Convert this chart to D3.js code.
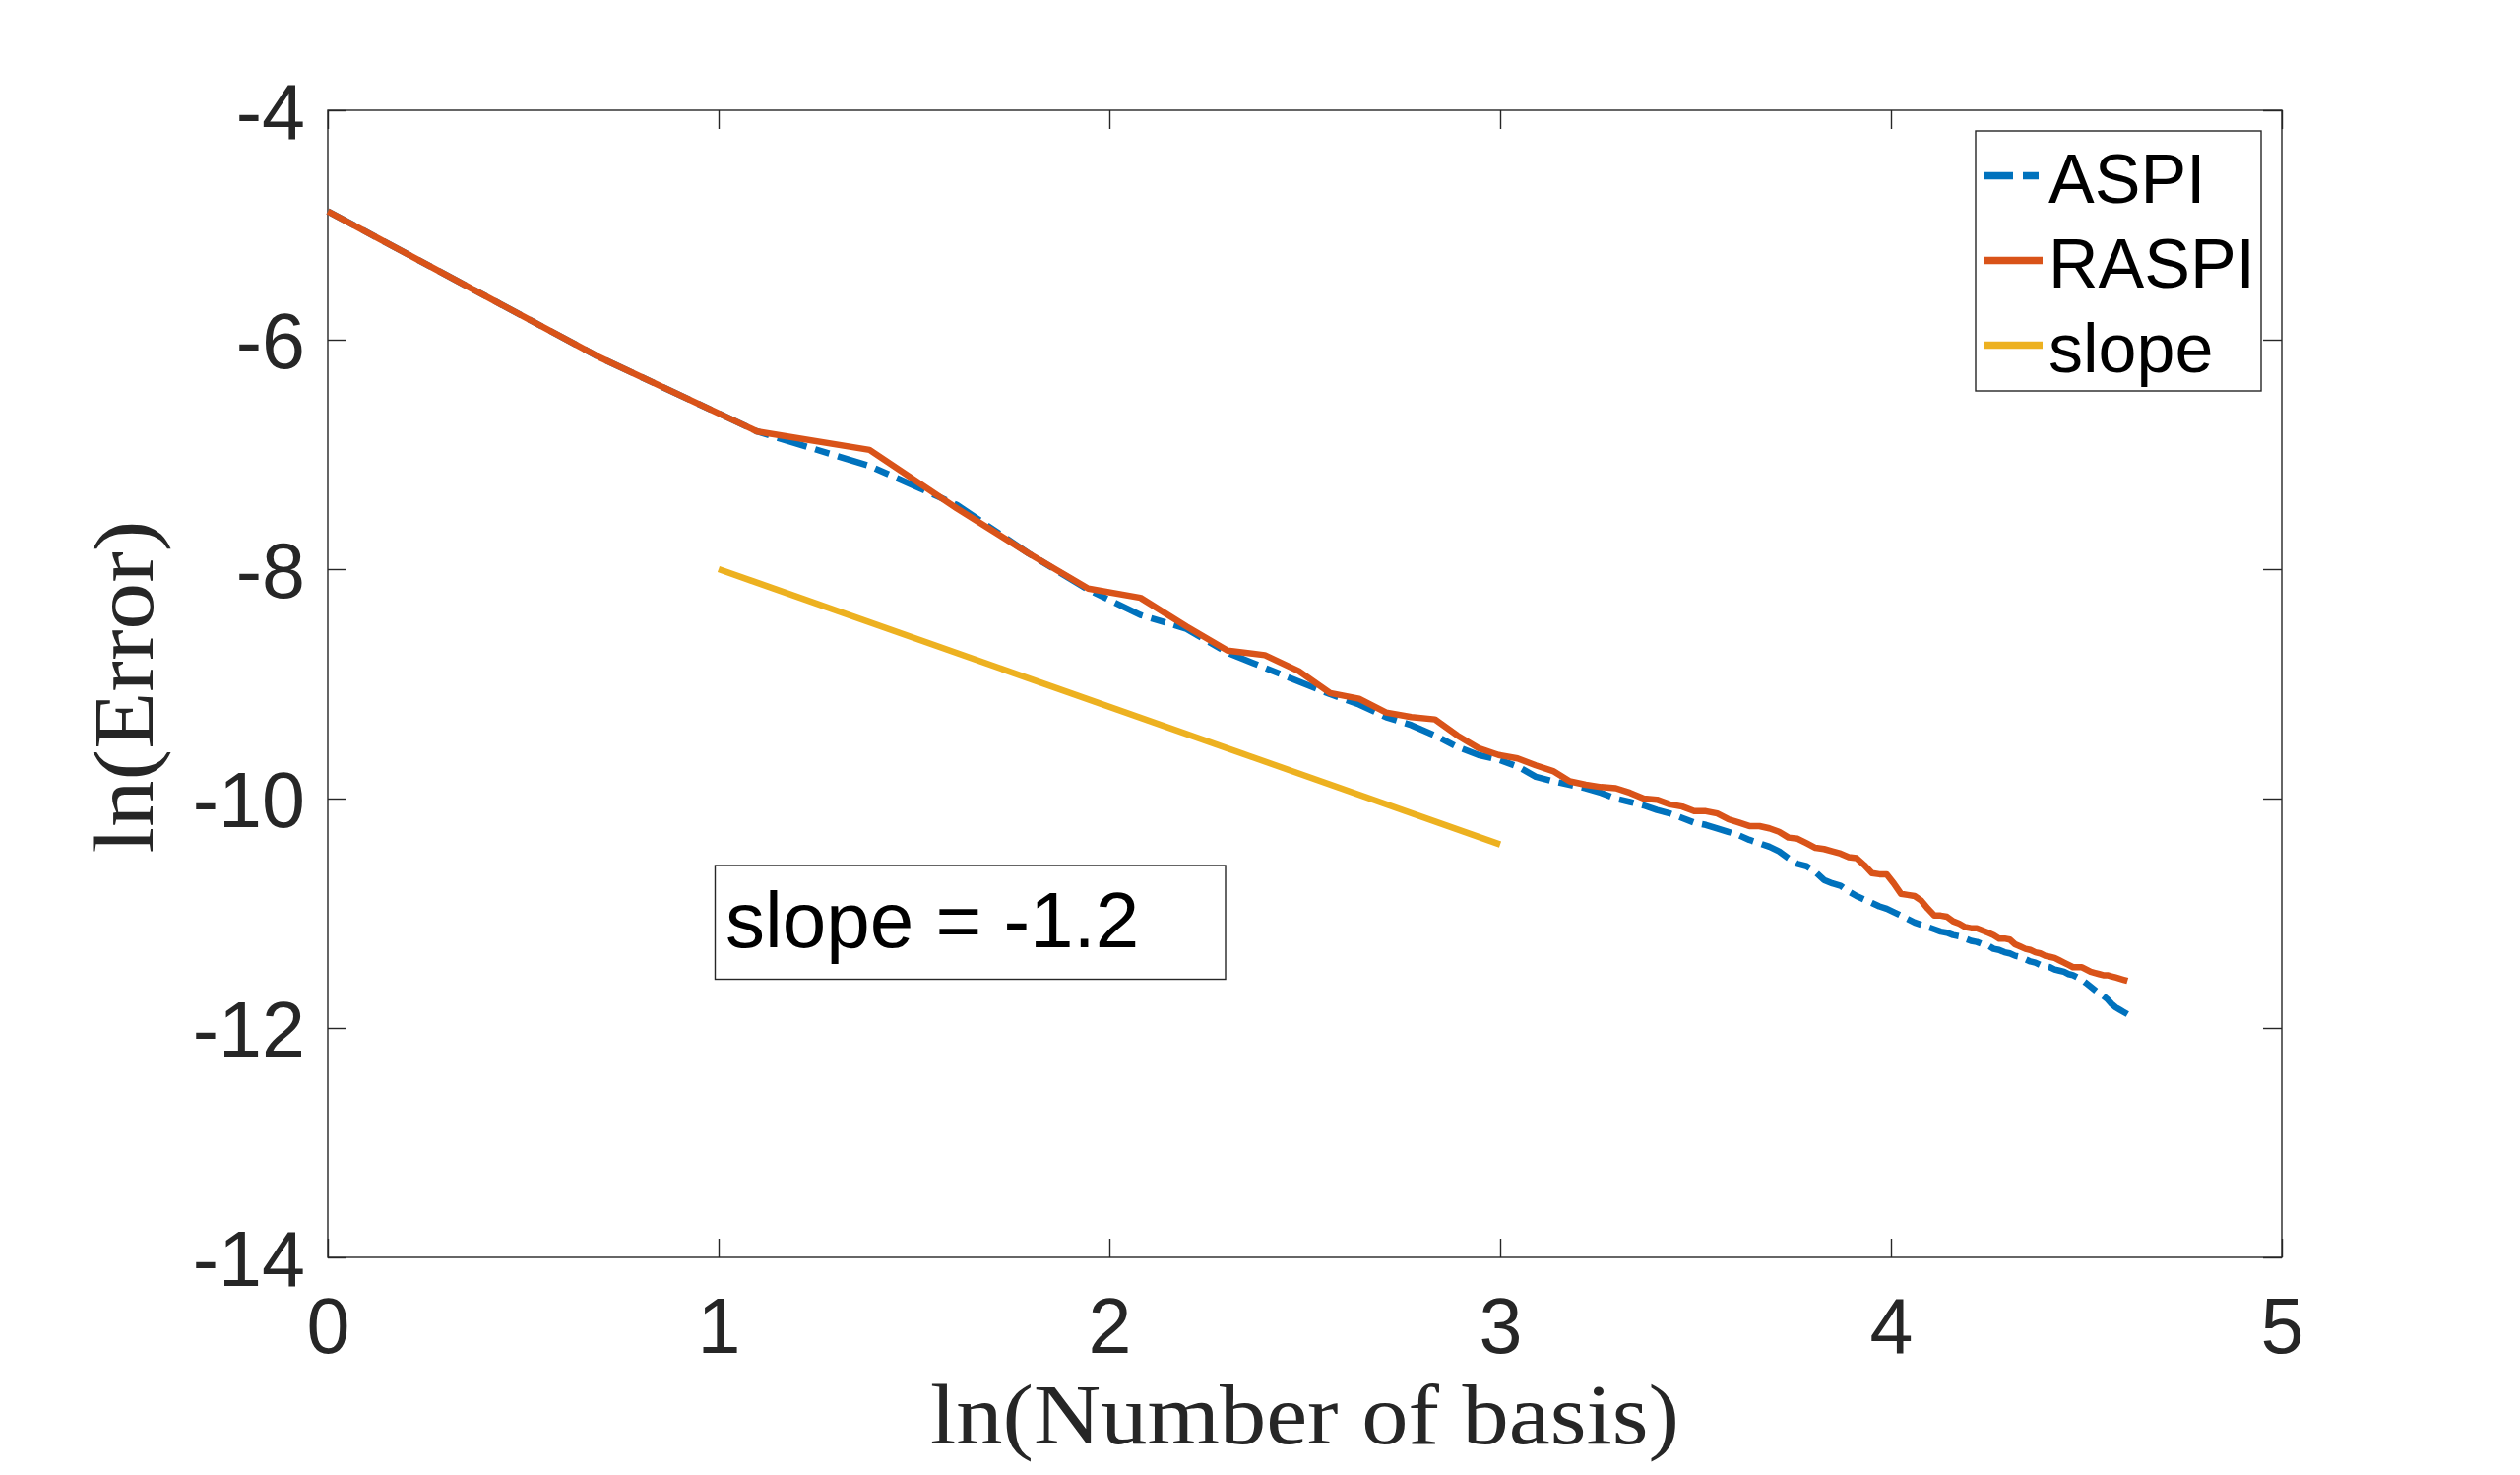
<!DOCTYPE html>
<html>
<head>
<meta charset="utf-8">
<script src="https://cdn.jsdelivr.net/npm/d3@7/dist/d3.min.js"></script>
<style>
  html, body { margin: 0; padding: 0; background: #ffffff; }
  svg { display: block; }
</style>
</head>
<body>
<svg id="chart" width="2560" height="1498"></svg>
<script>
// ---------------- data ----------------
const basisCounts = [
  1,2,3,4,5,6,7,8,9,10,11,12,13,14,15,16,17,18,19,20,
  21,22,23,24,25,26,27,28,29,30,31,32,33,34,35,36,37,38,39,40,
  41,42,43,44,45,46,47,48,49,50,51,52,53,54,55,56,57,58,59,60,
  61,62,63,64,65,66,67,68,69,70,71,72,73,74,75,76,77,78,79,80,
  81,82,83,84,85,86,87,88,89,90,91,92,93,94,95,96,97,98,99,100
];
const aspiLnError = [
  -4.88,-6.15,-6.80,-7.10,-7.44,-7.86,-8.18,-8.40,-8.52,-8.73,
  -8.86,-8.98,-9.09,-9.18,-9.29,-9.36,-9.45,-9.55,-9.62,-9.66,
  -9.72,-9.81,-9.85,-9.88,-9.91,-9.95,-10.00,-10.03,-10.06,-10.10,
  -10.13,-10.17,-10.21,-10.23,-10.26,-10.29,-10.32,-10.36,-10.39,-10.42,
  -10.46,-10.52,-10.57,-10.59,-10.64,-10.71,-10.74,-10.76,-10.81,-10.85,
  -10.88,-10.91,-10.94,-10.96,-10.99,-11.02,-11.05,-11.08,-11.10,-11.12,
  -11.14,-11.16,-11.17,-11.19,-11.20,-11.22,-11.24,-11.25,-11.27,-11.28,
  -11.31,-11.32,-11.34,-11.35,-11.37,-11.38,-11.40,-11.42,-11.43,-11.45,
  -11.46,-11.47,-11.49,-11.50,-11.51,-11.53,-11.54,-11.56,-11.58,-11.61,
  -11.64,-11.67,-11.70,-11.72,-11.75,-11.79,-11.82,-11.84,-11.86,-11.88
];
const raspiLnError = [
  -4.88,-6.15,-6.80,-6.96,-7.47,-7.86,-8.17,-8.25,-8.50,-8.71,
  -8.75,-8.89,-9.08,-9.13,-9.25,-9.29,-9.31,-9.45,-9.56,-9.62,
  -9.65,-9.71,-9.76,-9.85,-9.88,-9.90,-9.91,-9.95,-10.00,-10.01,
  -10.05,-10.07,-10.11,-10.11,-10.13,-10.18,-10.21,-10.24,-10.24,-10.26,
  -10.29,-10.34,-10.35,-10.39,-10.43,-10.44,-10.46,-10.48,-10.51,-10.52,
  -10.58,-10.65,-10.66,-10.66,-10.74,-10.83,-10.84,-10.85,-10.89,-10.96,
  -11.02,-11.02,-11.03,-11.07,-11.09,-11.12,-11.13,-11.13,-11.15,-11.17,
  -11.19,-11.22,-11.22,-11.23,-11.27,-11.29,-11.31,-11.32,-11.34,-11.35,
  -11.37,-11.38,-11.39,-11.41,-11.43,-11.45,-11.47,-11.47,-11.47,-11.49,
  -11.51,-11.52,-11.53,-11.54,-11.54,-11.55,-11.56,-11.57,-11.58,-11.59
];
const slopeX = [1, 3];
const slopeY = [-8, -10.4];
const xTicks = [0, 1, 2, 3, 4, 5];
const yTicks = [-14, -12, -10, -8, -6, -4];
const legendNames = ["ASPI", "RASPI", "slope"];
const annotationText = "slope = -1.2";
const xLabel = "ln(Number of basis)";
const yLabel = "ln(Error)";

// ---------------- layout ----------------
const L = 333, R = 2318, T = 112, B = 1277;
const axisColor = "#262626";
const colors = { ASPI: "#0072BD", RASPI: "#D95319", slope: "#EDB120" };
const lw = 6.5;
const sansFont = "'Liberation Sans', Arial, Helvetica, sans-serif";
const serifFont = "'Liberation Serif', 'Times New Roman', serif";

const svg = d3.select("#chart");
svg.append("rect").attr("width", 2560).attr("height", 1498).attr("fill", "#ffffff");

const x = d3.scaleLinear().domain([0, 5]).range([L, R]);
const y = d3.scaleLinear().domain([-14, -4]).range([B, T]);

// ---------------- axes ----------------
function styleAxis(g) {
  g.select(".domain").remove();
  g.selectAll(".tick line").attr("stroke", axisColor).attr("stroke-width", 1.4);
  g.selectAll(".tick text")
    .attr("fill", axisColor)
    .style("font-family", sansFont)
    .style("font-size", "79px");
}
const tickLen = 19;
svg.append("g").attr("transform", `translate(0,${B})`)
  .call(d3.axisBottom(x).tickValues(xTicks).tickFormat(d3.format("d"))
        .tickSizeInner(-tickLen).tickSizeOuter(0).tickPadding(41))
  .call(styleAxis);
svg.append("g").attr("transform", `translate(0,${T})`)
  .call(d3.axisTop(x).tickValues(xTicks).tickFormat("")
        .tickSizeInner(-tickLen).tickSizeOuter(0))
  .call(styleAxis);
svg.append("g").attr("transform", `translate(${L},0)`)
  .call(d3.axisLeft(y).tickValues(yTicks).tickFormat(d => String(d).replace("\u2212", "-"))
        .tickSizeInner(-tickLen).tickSizeOuter(0).tickPadding(23))
  .call(styleAxis)
  .call(g => g.selectAll(".tick text").attr("dy", "0.36em"));
svg.append("g").attr("transform", `translate(${R},0)`)
  .call(d3.axisRight(y).tickValues(yTicks).tickFormat("")
        .tickSizeInner(-tickLen).tickSizeOuter(0))
  .call(styleAxis);

// plot box
svg.append("rect")
  .attr("x", L).attr("y", T).attr("width", R - L).attr("height", B - T)
  .attr("fill", "none").attr("stroke", axisColor).attr("stroke-width", 1.4);

// ---------------- lines ----------------
const xs = basisCounts.map(n => Math.log(n));
const line = d3.line().x(d => x(d[0])).y(d => y(d[1]));
const aspiData = xs.map((v, i) => [v, aspiLnError[i]]);
const raspiData = xs.map((v, i) => [v, raspiLnError[i]]);
const slopeData = slopeX.map((v, i) => [v, slopeY[i]]);

svg.append("path").datum(aspiData)
  .attr("d", line).attr("fill", "none")
  .attr("stroke", colors.ASPI).attr("stroke-width", lw)
  .attr("stroke-dasharray", "31,9,15,9").attr("stroke-linejoin", "round");
svg.append("path").datum(raspiData)
  .attr("d", line).attr("fill", "none")
  .attr("stroke", colors.RASPI).attr("stroke-width", lw).attr("stroke-linejoin", "round");
svg.append("path").datum(slopeData)
  .attr("d", line).attr("fill", "none")
  .attr("stroke", colors.slope).attr("stroke-width", lw);

// ---------------- annotation ----------------
svg.append("rect")
  .attr("x", 726.5).attr("y", 879).attr("width", 518.5).attr("height", 115.5)
  .attr("fill", "#ffffff").attr("stroke", axisColor).attr("stroke-width", 1.4);
svg.append("text")
  .attr("x", 737).attr("y", 962)
  .style("font-family", sansFont).style("font-size", "80px").attr("fill", "#000000")
  .text(annotationText);

// ---------------- legend ----------------
const leg = svg.append("g");
leg.append("rect")
  .attr("x", 2007).attr("y", 133).attr("width", 290).attr("height", 264)
  .attr("fill", "#ffffff").attr("stroke", axisColor).attr("stroke-width", 1.4);
legendNames.forEach((name, i) => {
  const cy = 178.5 + i * 86;
  leg.append("line")
    .attr("x1", 2016).attr("x2", name === "ASPI" ? 2071 : 2075)
    .attr("y1", cy).attr("y2", cy)
    .attr("stroke", colors[name]).attr("stroke-width", lw + 1)
    .attr("stroke-dasharray", name === "ASPI" ? "29,10,16,10" : null);
  leg.append("text")
    .attr("x", 2081).attr("y", cy + 27)
    .style("font-family", sansFont).style("font-size", "70px").attr("fill", "#000000")
    .text(name);
});

// ---------------- axis labels ----------------
svg.append("text")
  .attr("x", (L + R) / 2).attr("y", 1466)
  .attr("text-anchor", "middle")
  .attr("textLength", 761).attr("lengthAdjust", "spacingAndGlyphs")
  .style("font-family", serifFont).style("font-size", "87px").attr("fill", axisColor)
  .text(xLabel);
svg.append("text")
  .attr("transform", `translate(155,${(T + B) / 2 + 3}) rotate(-90)`)
  .attr("text-anchor", "middle")
  .attr("textLength", 338).attr("lengthAdjust", "spacingAndGlyphs")
  .style("font-family", serifFont).style("font-size", "87px").attr("fill", axisColor)
  .text(yLabel);
</script>
</body>
</html>
